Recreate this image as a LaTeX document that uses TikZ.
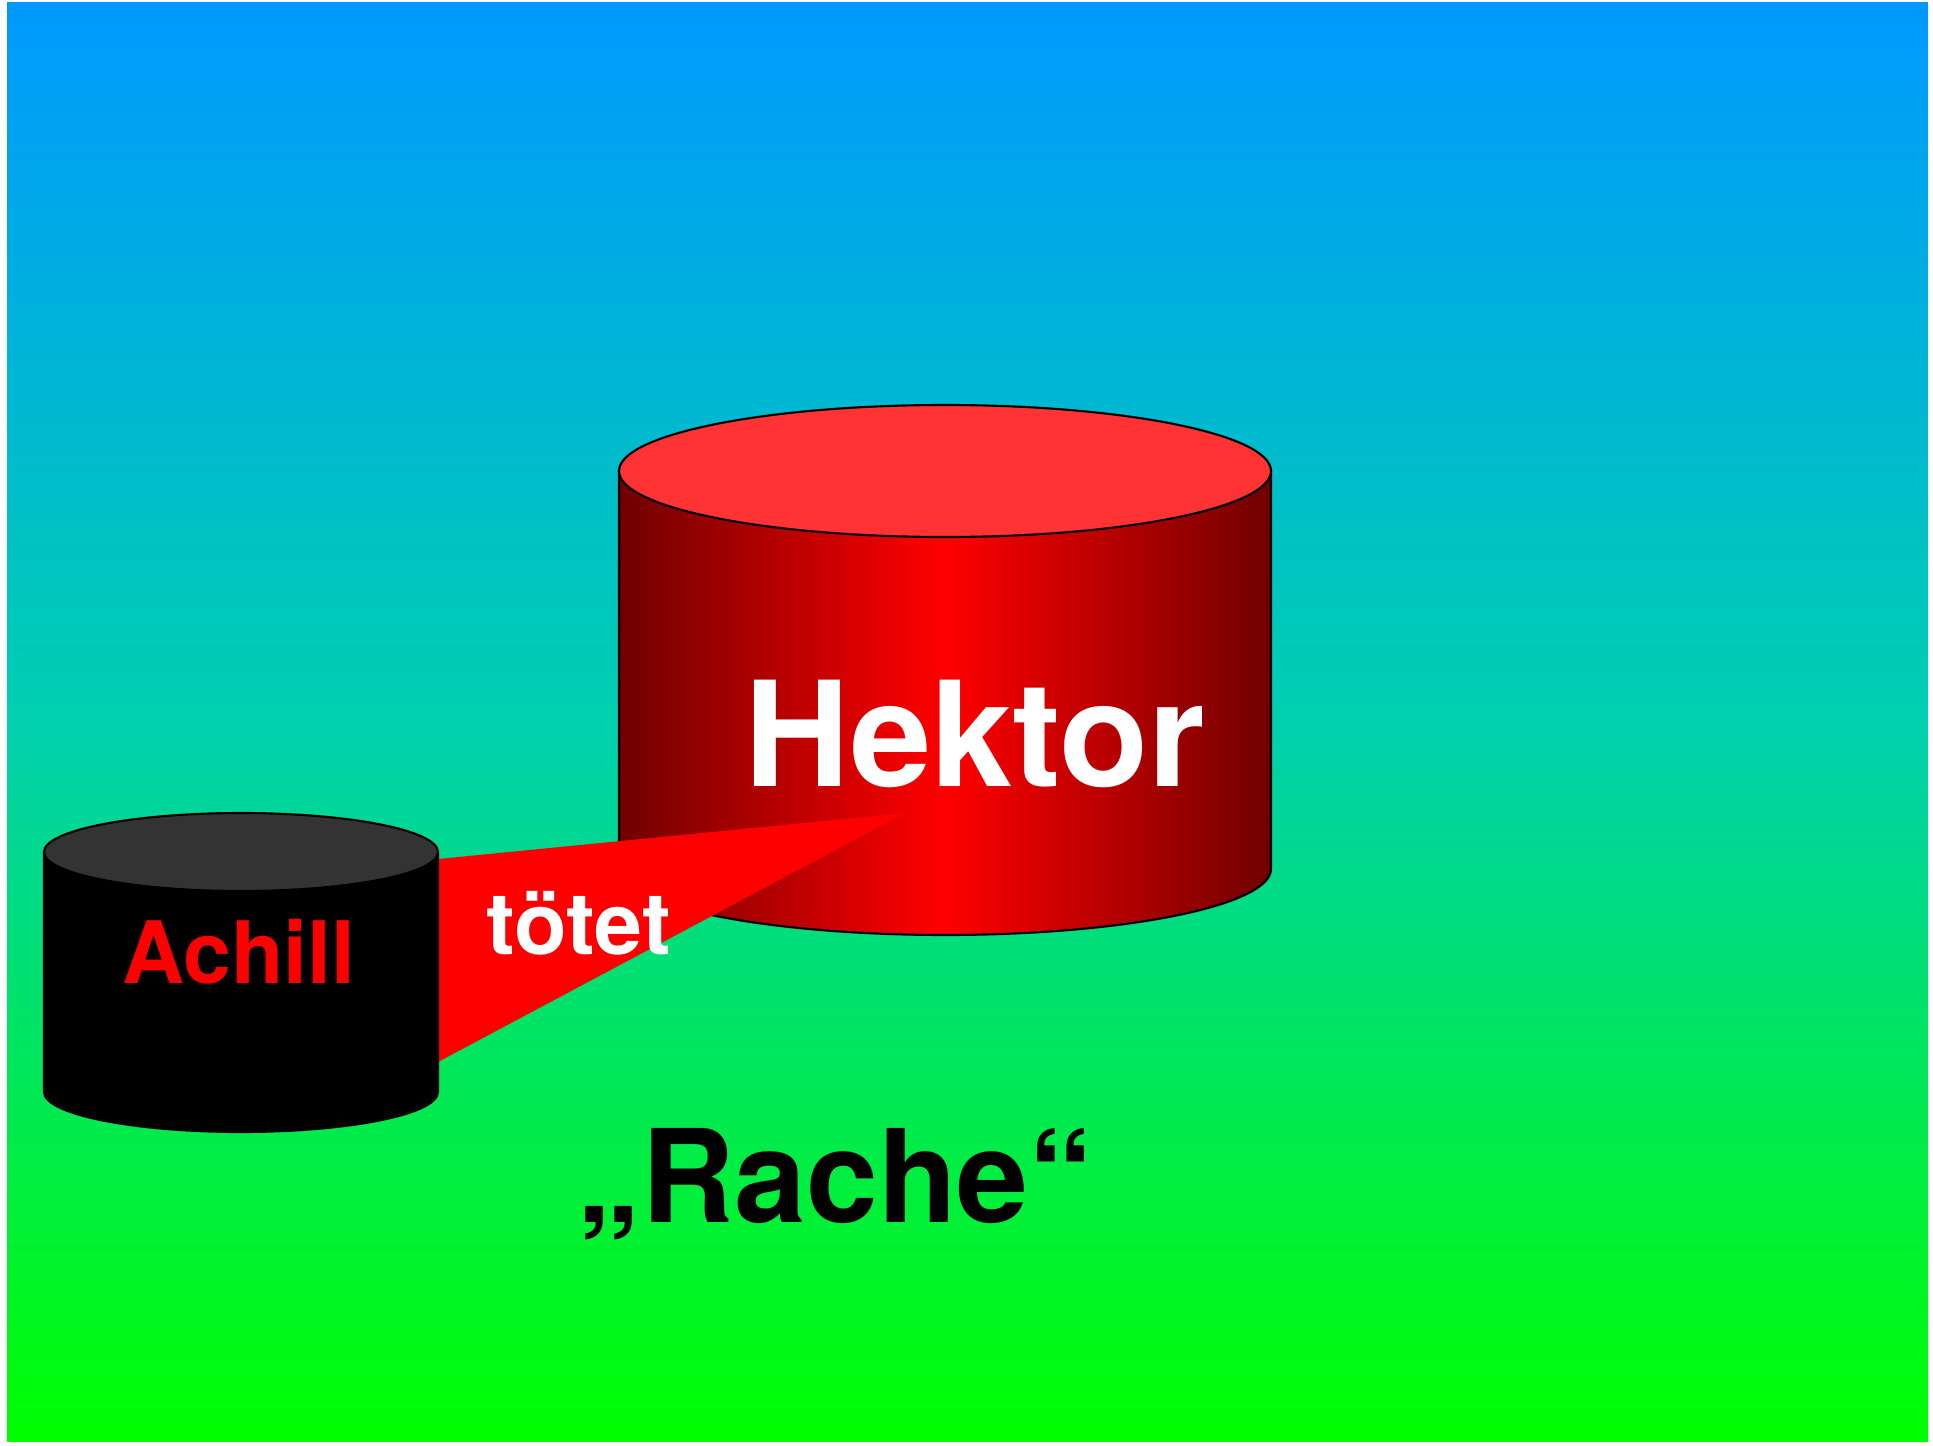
\documentclass[tikz,border=0pt]{standalone}
\usepackage{fontspec}
\setmainfont{TeX Gyre Heros}
\usepackage{tikz}

\definecolor{skyblue}{RGB}{0,153,255}
\definecolor{seagreen}{RGB}{0,208,175}
\definecolor{grassgreen}{RGB}{0,255,0}
\definecolor{darkred}{RGB}{112,0,0}
\definecolor{lidred}{RGB}{255,51,51}
\definecolor{lidgrey}{RGB}{51,51,51}

\begin{document}
\begin{tikzpicture}[x=0.01cm, y=0.01cm, rim/.style={draw=black, line width=0.6pt}]
        \useasboundingbox[fill=white] (0,0) rectangle (1933,-1446);
        \shade[top color=skyblue, bottom color=grassgreen, middle color=seagreen] (7,-3) rectangle (1928,-1441);

        \coordinate (HT) at (945,-471);
        \coordinate (HB) at (945,-869);
        \coordinate (AT) at (241,-852);
        \coordinate (AB) at (241,-1092);

        \shadedraw[left color=darkred, right color=darkred, middle color=red, rim]
            (619,-471) -- (619,-869) arc[start angle=180, end angle=360, x radius=326, y radius=66] -- (1271,-471) -- cycle;
        \draw[rim, fill=lidred] (HT) ellipse [x radius=326, y radius=66];

        \coordinate (W1) at (438,-859);
        \coordinate (W2) at (438,-1062);
        \coordinate (W3) at (905,-813);
        \fill[red] (W1) -- (W3) -- (W2) -- cycle;

        \filldraw[rim, fill=black]
            (44,-852) -- (44,-1092) arc[start angle=180, end angle=360, x radius=197, y radius=40] -- (438,-852) -- cycle;
        \draw[rim, fill=lidgrey] (AT) ellipse [x radius=197, y radius=39];

        \begin{scope}[every node/.style={inner sep=0pt, anchor=base}]
            \node[text=white, font=\bfseries\fontsize{41.5}{48}\selectfont] (hektor) at (975,-786) {Hektor};
            \node[text=red, font=\bfseries\fontsize{24.5}{30}\selectfont] (achill) at (239,-983) {Achill};
            \node[text=white, font=\bfseries\fontsize{24.5}{30}\selectfont] (toetet) at (579,-954) {tötet};
            \node[text=black, font=\bfseries\fontsize{36.7}{44}\selectfont] (rache) at (835,-1222) {„Rache“};
        \end{scope}
    \end{tikzpicture}
\end{document}
